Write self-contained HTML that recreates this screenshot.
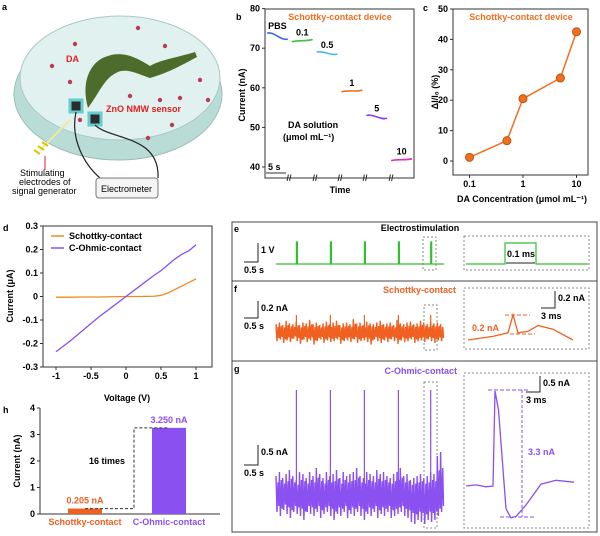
<!DOCTYPE html>
<html><head><meta charset="utf-8"><style>
html,body{margin:0;background:#fff;overflow:hidden;width:600px;height:536px}
svg{display:block;font-family:"Liberation Sans",Arial,sans-serif;font-weight:bold}
text{font-size:9px}
</style></head><body>
<svg id="s" width="600" height="536" viewBox="0 0 600 536">
<g>
<text x="2" y="10" font-size="11">a</text>
<ellipse cx="118" cy="94" rx="104" ry="66" fill="#b9dcd6" stroke="#9bbdb8"/>
<ellipse cx="120" cy="78" rx="100" ry="62" fill="#e0f1ef" stroke="#a9c9c5"/>
<path d="M88 108 C80 80 92 60 108 56 C125 50 140 60 150 66 C160 60 175 58 195 52 L197 57 C180 66 170 72 150 78 C140 75 128 68 118 72 C104 78 100 92 88 108 Z" fill="#4d6b2a"/>
<g fill="#b83c52" id="dots"></g>
<rect x="70" y="100" width="12" height="12" fill="#2b2b2b" stroke="#6cc" stroke-width="3"/>
<rect x="89" y="113" width="12" height="12" fill="#2b2b2b" stroke="#6cc" stroke-width="3"/>
<path d="M76 112 C70 140 85 165 100 178 M95 125 C110 140 160 135 158 178" fill="none" stroke="#222" stroke-width="1.2"/>
<path d="M40 150 L70 120" stroke="#f0e8a0" stroke-width="2"/>
<path d="M34 150l6 4M38 146l6 4M42 142l6 4" stroke="#d8c800" stroke-width="2"/>
<text x="66" y="62" fill="#e02020" font-size="9">DA</text>
<text x="106" y="112" fill="#e02020" font-size="9">ZnO NMW sensor</text>
<path d="M45 156 L45 170" stroke="#e02020"/>
<text x="20" y="176" font-size="8" font-weight="normal">Stimulating</text>
<text x="19" y="185" font-size="8" font-weight="normal">electrodes of</text>
<text x="12" y="194" font-size="8" font-weight="normal">signal generator</text>
<rect x="96" y="178" width="62" height="20" rx="3" fill="#f4f4f4" stroke="#777"/>
<text x="101" y="192" font-size="8" font-weight="normal">Electrometer</text>
</g>
<g id="charts"></g>
</svg>
<script>
const bConc=['PBS','0.1','0.5','1','5','10'];
const bStart=[73.8,71.6,69.0,59.0,53.0,41.6];
const bEnd=[72.3,72.2,68.5,59.4,52.3,42.1];
const bColors=['#3a6fe0','#3cc03c','#45b8ec','#f07020','#8a40e0','#e030c0'];
const cConc=[0.1,0.5,1,5,10];
const cDelta=[1.2,6.7,20.5,27.3,42.5];
const cYTicks=[0,10,20,30,40,50];
const dV=[-1,-0.8,-0.6,-0.4,-0.2,0,0.2,0.4,0.5,0.6,0.7,0.8,0.9,1];
const dSchottky=[-0.003,-0.003,-0.002,-0.002,-0.001,0,0,0.001,0.005,0.015,0.03,0.045,0.06,0.075];
const dOhmic=[-0.235,-0.19,-0.14,-0.09,-0.045,0,0.045,0.09,0.11,0.135,0.16,0.18,0.195,0.22];
const dYTicks=[-0.3,-0.2,-0.1,0,0.1,0.2,0.3];
const dXTicks=[-1,-0.5,0,0.5,1];
const hCats=['Schottky-contact','C-Ohmic-contact'];
const hVals=[0.205,3.25];
const hYTicks=[0,1,2,3,4];
const spikeTimes=[0.6,1.6,2.6,3.6,4.55];
const fTop=[0.08,0.1,0.07,0.12,0.09,0.08,0.11,0.07,0.1,0.09,0.13,0.08,0.1,0.07,0.09,0.11,0.08,0.1,0.12,0.07,0.09,0.1,0.08,0.14,0.09,0.1,0.07,0.11,0.09,0.08,0.1,0.12,0.08,0.09,0.1,0.07,0.13,0.09,0.08,0.1,0.11,0.08,0.09,0.12,0.1,0.08,0.11,0.09,0.1,0.08];
const fBot=[0.12,0.1,0.14,0.11,0.13,0.09,0.12,0.15,0.1,0.13,0.11,0.16,0.12,0.1,0.14,0.11,0.13,0.12,0.1,0.15,0.12,0.11,0.13,0.1,0.14,0.12,0.11,0.13,0.16,0.1,0.12,0.14,0.11,0.13,0.1,0.12,0.15,0.11,0.13,0.12,0.1,0.14,0.12,0.11,0.13,0.1,0.12,0.14,0.11,0.12];
const gTop=[0.4,0.5,0.35,0.45,0.55,0.4,0.3,0.5,0.45,0.35,0.5,0.4,0.6,0.45,0.35,0.5,0.4,0.45,0.55,0.35,0.5,0.4,0.45,0.5,0.6,0.4,0.35,0.5,0.45,0.4,0.55,0.45,0.5,0.4,0.35,0.45,0.5,0.6,0.4,0.45,0.3,0.35,0.4,0.45,0.35,0.4,0.5,0.45,0.9,1.0];
const gBot=[0.5,0.6,0.45,0.55,0.65,0.5,0.55,0.6,0.7,0.5,0.55,0.6,0.5,0.65,0.55,0.5,0.6,0.7,0.55,0.6,0.5,0.65,0.55,0.6,0.5,0.6,0.7,0.55,0.6,0.5,0.65,0.55,0.6,0.5,0.65,0.6,0.55,0.5,0.6,0.65,0.75,0.8,0.7,0.75,0.8,0.7,0.75,0.7,0.6,0.5];
const gInset=[[0,0],[2,0.03],[4,-0.02],[5.4,0],[5.8,2.5],[6.5,2.0],[8,-0.6],[9,-0.84],[10,-0.8],[12,-0.5],[15,0.05],[18,0.15],[21.6,0.1]];
const fInset=[[0,0],[5,0.05],[8,0.1],[9,0.35],[10,0.1],[12,0.12],[14,0.2],[17,0.15],[21,0]];

const NS='http://www.w3.org/2000/svg';
const root=document.getElementById('charts');
function el(tag,attrs,parent,txt){const e=document.createElementNS(NS,tag);for(const k in attrs)e.setAttribute(k,attrs[k]);if(txt!==undefined)e.textContent=txt;(parent||root).appendChild(e);return e;}
const dotG=document.getElementById('dots');
[[75,44],[52,66],[70,82],[138,28],[165,46],[200,80],[180,98],[160,100],[130,96],[172,125],[148,138],[208,100],[80,120]].forEach(p=>el('circle',{cx:p[0],cy:p[1],r:2.2},dotG));

// Panel b
const gb=el('g',{});

const bx0=265,bx1=414,by0=9,by1=178;
const bY=v=>by1-11-(v-40)*3.96;
el('rect',{x:bx0,y:by0,width:bx1-bx0,height:by1-by0,fill:'none',stroke:'#333'},gb);
[40,50,60,70,80].forEach(v=>{el('line',{x1:bx0-3,x2:bx0,y1:bY(v),y2:bY(v),stroke:'#333'},gb);el('text',{x:bx0-5,y:bY(v)+3,'text-anchor':'end'},gb,v);});
el('text',{x:236,y:20,'font-size':11},gb,'b');
el('text',{x:-95,y:245,transform:'rotate(-90)','text-anchor':'middle'},gb,'Current (nA)');
el('text',{x:340,y:193,'text-anchor':'middle','font-size':9.5},gb,'Time');
el('text',{x:340,y:20,'text-anchor':'middle',fill:'#f07020'},gb,'Schottky-contact device');
[289,315,340,365,391].forEach(x=>{el('text',{x:x,y:181,'text-anchor':'middle','font-size':8,fill:'#333'},gb,'//');});
const segW=(bx1-bx0)/6;
bConc.forEach((c,i)=>{
  const x0=bx0+2+i*segW,x1=x0+segW-4,y0=bY(bStart[i]),y1=bY(bEnd[i]);
  const p=el('path',{d:`M${x0} ${y0} C${x0+7} ${y0-2},${x1-7} ${y1+2},${x1} ${y1}`,fill:'none',stroke:bColors[i],'stroke-width':1.6},gb);
  
  el('text',{x:(x0+x1)/2,y:Math.min(y0,y1)-4,'text-anchor':'middle','font-size':8.5},gb,c);
});
el('text',{x:288,y:128},gb,'DA solution');
el('text',{x:283,y:140},gb,'(μmol mL⁻¹)');
el('text',{x:268,y:170,'font-size':8},gb,'5 s');
el('line',{x1:266,x2:286,y1:173,y2:173,stroke:'#333'},gb);

// Panel c
const gc=el('g',{});

const cx0=453,cx1=588,cy0=9,cy1=175;
const cX=v=>523+Math.log10(v)*53.5, cY=v=>161-v*3.04;
el('rect',{x:cx0,y:cy0,width:cx1-cx0,height:cy1-cy0,fill:'none',stroke:'#333'},gc);
cYTicks.forEach(v=>{el('line',{x1:cx0-3,x2:cx0,y1:cY(v),y2:cY(v),stroke:'#333'},gc);el('text',{x:cx0-5,y:cY(v)+3,'text-anchor':'end'},gc,v);});
[0.1,1,10].forEach(v=>{el('line',{x1:cX(v),x2:cX(v),y1:cy1,y2:cy1+3,stroke:'#333'},gc);el('text',{x:cX(v),y:cy1+12,'text-anchor':'middle'},gc,v);});
el('text',{x:423,y:11,'font-size':11},gc,'c');
el('text',{x:-92,y:438,transform:'rotate(-90)','text-anchor':'middle'},gc,'ΔI/I₀ (%)');
el('text',{x:522,y:202,'text-anchor':'middle','font-size':9.5},gc,'DA Concentration (μmol mL⁻¹)');
el('text',{x:521,y:20,'text-anchor':'middle',fill:'#f07020'},gc,'Schottky-contact device');
el('polyline',{points:cConc.map((c,i)=>cX(c)+','+cY(cDelta[i])).join(' '),fill:'none',stroke:'#f07020','stroke-width':1.5},gc);
cConc.forEach((c,i)=>{const m=el('circle',{cx:cX(c),cy:cY(cDelta[i]),r:4,fill:'#f07020',stroke:'#c05010'},gc);});

// Panel d
const gd=el('g',{});

const dx0=43,dx1=212,dy0=226,dy1=367;
const dX=v=>126+v*70, dY=v=>296.5-v*235;
el('rect',{x:dx0,y:dy0,width:dx1-dx0,height:dy1-dy0,fill:'none',stroke:'#333'},gd);
dYTicks.forEach(v=>{el('line',{x1:dx0-3,x2:dx0,y1:dY(v),y2:dY(v),stroke:'#333'},gd);el('text',{x:dx0-5,y:dY(v)+3,'text-anchor':'end'},gd,v);});
dXTicks.forEach(v=>{el('line',{x1:dX(v),x2:dX(v),y1:dy1,y2:dy1+3,stroke:'#333'},gd);el('text',{x:dX(v),y:dy1+12,'text-anchor':'middle'},gd,v);});
el('text',{x:3,y:231,'font-size':11},gd,'d');
el('text',{x:-296,y:13,transform:'rotate(-90)','text-anchor':'middle'},gd,'Current (μA)');
el('text',{x:127,y:401,'text-anchor':'middle','font-size':9.5},gd,'Voltage (V)');
el('polyline',{points:dV.map((v,i)=>dX(v)+','+dY(dSchottky[i])).join(' '),fill:'none',stroke:'#f08a20','stroke-width':1.3},gd);
el('polyline',{points:dV.map((v,i)=>dX(v)+','+dY(dOhmic[i])).join(' '),fill:'none',stroke:'#8a50f0','stroke-width':1.3},gd);
el('line',{x1:51,x2:64,y1:236,y2:236,stroke:'#f08a20','stroke-width':1.5},gd);
el('text',{x:69,y:239},gd,'Schottky-contact');
el('line',{x1:51,x2:64,y1:248,y2:248,stroke:'#8a50f0','stroke-width':1.5},gd);
el('text',{x:69,y:251},gd,'C-Ohmic-contact');

// Panel h
const gh=el('g',{});

const hx0=40,hx1=220,hy0=408,hy1=514;
const hY=v=>hy1-v*26.5;
el('polyline',{points:`${hx0},${hy0} ${hx0},${hy1} ${hx1},${hy1}`,fill:'none',stroke:'#333'},gh);
hYTicks.forEach(v=>{el('line',{x1:hx0-3,x2:hx0,y1:hY(v),y2:hY(v),stroke:'#333'},gh);el('text',{x:hx0-5,y:hY(v)+3,'text-anchor':'end'},gh,v);});
el('text',{x:3,y:413,'font-size':11},gh,'h');
el('text',{x:-461,y:20,transform:'rotate(-90)','text-anchor':'middle'},gh,'Current (nA)');
const hCols=['#f06020','#8a50f0'],hCx=[85,169];
hCats.forEach((c,i)=>{
  const r=el('rect',{x:hCx[i]-17,y:hY(hVals[i]),width:34,height:hy1-hY(hVals[i]),fill:hCols[i]},gh);
  
  el('text',{x:hCx[i],y:525,'text-anchor':'middle',fill:hCols[i]},gh,c);
  el('text',{x:hCx[i],y:hY(hVals[i])-5,'text-anchor':'middle',fill:hCols[i],'font-size':10},gh,hVals[i].toFixed(3)+' nA');
});
el('polyline',{points:`${hCx[0]},${hY(hVals[0])} 134,${hY(hVals[0])} 134,${hY(hVals[1])} ${hCx[1]},${hY(hVals[1])}`,fill:'none',stroke:'#333','stroke-dasharray':'3,2'},gh);
el('text',{x:89,y:464,'font-size':8},gh,'16 times');

// Panels e,f,g
const ge=el('g',{});

el('rect',{x:232,y:222,width:365,height:310,fill:'none',stroke:'#444'},ge);
el('line',{x1:232,x2:597,y1:281,y2:281,stroke:'#444'},ge);
el('line',{x1:232,x2:597,y1:361,y2:361,stroke:'#444'},ge);
el('text',{x:234,y:232,'font-size':11},ge,'e');
el('text',{x:234,y:292,'font-size':11},ge,'f');
el('text',{x:234,y:372,'font-size':11},ge,'g');
el('text',{x:420,y:231,'text-anchor':'middle','font-size':9.5},ge,'Electrostimulation');
el('text',{x:456,y:293,'text-anchor':'end',fill:'#f06020','font-size':9.5},ge,'Schottky-contact');
el('text',{x:457,y:374,'text-anchor':'end',fill:'#8a50f0','font-size':9.5},ge,'C-Ohmic-contact');
function scale(x,yt,yb,l1,l2,dx){el('polyline',{points:`${x},${yt} ${x},${yb} ${x-14},${yb}`,fill:'none',stroke:'#222'},ge);el('text',{x:x+3,y:yt+10,'font-size':8.5},ge,l1);el('text',{x:x-(dx||14),y:yb+11,'font-size':8.5},ge,l2);}
scale(258,243,262,'1 V','0.5 s');scale(258,301,318,'0.2 nA','0.5 s');scale(258,445,465,'0.5 nA','0.5 s');
scale(555,291,308,'0.2 nA','3 ms',14);scale(540,376,392,'0.5 nA','3 ms',0);
const tX=t=>276+t*34;
[[423,237,13,33],[424,305,13,45],[424,382,13,146],[464,236,125,34],[464,288,125,61],[464,373,125,155]].forEach(b=>el('rect',{x:b[0],y:b[1],width:b[2],height:b[3],fill:'none',stroke:'#888','stroke-dasharray':'2,2'},ge));
let ep=`M276 264`;spikeTimes.forEach(t=>{const x=tX(t);ep+=` L${x} 264 L${x} 242 L${x+1} 242 L${x+1} 264`;});ep+=' L444 264';
el('path',{d:ep,fill:'none',stroke:'#30c030','stroke-width':1.2},ge);
el('path',{d:'M466 264 L505 264 L505 243 L536 243 L536 264 L588 264',fill:'none',stroke:'#30c030','stroke-width':1.2},ge);
el('line',{x1:506,x2:535,y1:263,y2:263,stroke:'#222'},ge);
el('text',{x:507,y:257,'font-size':8},ge,'0.1 ms');
function noise(top,bot,yc,sc,col,spikeTop){
  const n=top.length,w=168/n;let d='';
  top.forEach((v,i)=>{const x=276+i*w;d+=(i?' L':'M')+x.toFixed(1)+' '+(yc-v*sc).toFixed(1)+' L'+(x+w*0.3).toFixed(1)+' '+(yc+bot[i]*sc).toFixed(1)+' L'+(x+w*0.6).toFixed(1)+' '+(yc-v*sc*0.6).toFixed(1)+' L'+(x+w*0.85).toFixed(1)+' '+(yc+bot[i]*sc*0.7).toFixed(1);});
  el('path',{d:d,fill:'none',stroke:col,'stroke-width':1.4},ge);
  spikeTimes.forEach(t=>{el('line',{x1:tX(t),x2:tX(t),y1:yc,y2:spikeTop,stroke:col,'stroke-width':1.2},ge);});}
noise(fTop,fBot,331,85,'#f06020',315);
noise(gTop,gBot,492,40,'#8a50f0',390);
function inset(pts,x0,xs,y0,ys,col){el('polyline',{points:pts.map(p=>(x0+p[0]*xs).toFixed(1)+','+(y0-p[1]*ys).toFixed(1)).join(' '),fill:'none',stroke:col,'stroke-width':1.3},ge);}
inset(fInset,468,5,340,72,'#f06020');
inset(gInset,466,5,486,38,'#8a50f0');
el('text',{x:472,y:331,fill:'#f06020','font-size':9.5},ge,'0.2 nA');
el('line',{x1:505,x2:530,y1:315,y2:315,stroke:'#f06020','stroke-dasharray':'4,2'},ge);
el('line',{x1:510,x2:535,y1:334,y2:334,stroke:'#f06020','stroke-dasharray':'4,2'},ge);
el('line',{x1:488,x2:530,y1:390,y2:390,stroke:'#8a50f0','stroke-dasharray':'4,2'},ge);
el('line',{x1:500,x2:535,y1:517,y2:517,stroke:'#8a50f0','stroke-dasharray':'4,2'},ge);
el('line',{x1:522,x2:522,y1:390,y2:517,stroke:'#8a50f0','stroke-dasharray':'3,2'},ge);
el('text',{x:528,y:455,fill:'#8a50f0','font-size':9.5},ge,'3.3 nA');
</script>
</body></html>
